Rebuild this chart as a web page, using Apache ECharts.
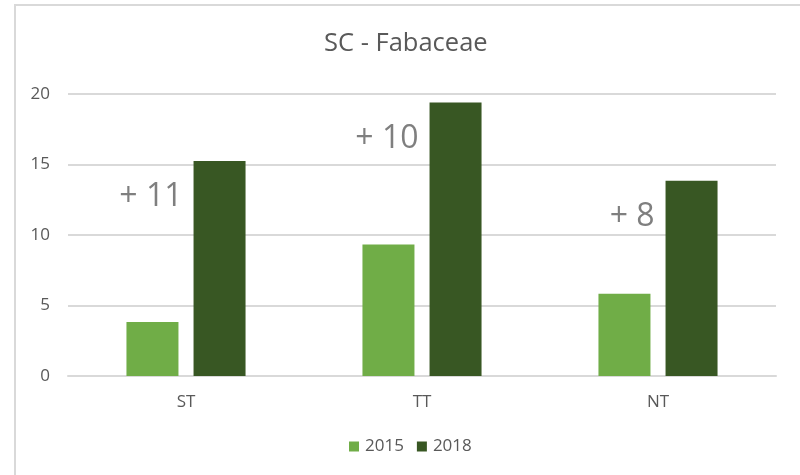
<!DOCTYPE html>
<html>
<head>
<meta charset="utf-8">
<script src="https://cdn.jsdelivr.net/npm/echarts@6/dist/echarts.min.js"></script>
<style>
  html, body { margin: 0; padding: 0; background: #fff; }
  #chart { width: 800px; height: 475px; }
</style>
</head>
<body>
<div id="chart"></div>
<script>
var categories = ["ST", "TT", "NT"];
var values2015 = [3.83, 9.33, 5.83];
var values2018 = [15.24, 19.4, 13.84];
var diffLabels = ["+ 11", "+ 10", "+ 8"];
var yTicks = [0, 5, 10, 15, 20];

var myChart = echarts.init(document.getElementById('chart'));
var font = "Open Sans";

var option = {
  backgroundColor: "#fff",
  animation: false,
  graphic: [{
    type: "rect",
    shape: { x: 15, y: 5, width: 790, height: 480 },
    style: { fill: "none", stroke: "#d9d9d9", lineWidth: 2 },
    silent: true
  }],
  title: {
    text: "SC - Fabaceae",
    left: 319,
    top: 26,
    textStyle: { color: "#595959", fontSize: 25.5, fontWeight: "normal", fontFamily: font }
  },
  legend: {
    bottom: 15,
    left: 344,
    itemWidth: 10,
    itemHeight: 10,
    itemGap: 13,
    icon: "rect",
    textStyle: { color: "#595959", fontSize: 17, fontFamily: font, padding: [0, 0, 0, 1] },
    data: ["2015", "2018"]
  },
  grid: { left: 68, right: 24, top: 94, bottom: 99 },
  xAxis: {
    type: "category",
    data: categories,
    axisLine: { lineStyle: { color: "#d9d9d9", width: 2 } },
    axisTick: { show: false },
    axisLabel: { color: "#595959", fontSize: 17, fontFamily: font, margin: 18 }
  },
  yAxis: {
    type: "value",
    min: yTicks[0],
    max: yTicks[yTicks.length - 1],
    interval: 5,
    axisLine: { show: false },
    axisTick: { show: false },
    splitLine: { lineStyle: { color: "#d9d9d9", width: 2 } },
    axisLabel: { color: "#595959", fontSize: 17, fontFamily: font, margin: 18 }
  },
  series: [{
    name: "2015",
    type: "bar",
    data: values2015,
    barWidth: 52,
    barGap: "29%",
    itemStyle: { color: "#70ad47" }
  }, {
    name: "2018",
    type: "bar",
    data: values2018,
    barWidth: 52,
    itemStyle: { color: "#385723" },
    label: {
      show: true,
      position: [-11, 36],
      align: "right",
      verticalAlign: "middle",
      color: "#7f7f7f",
      fontSize: 32,
      fontFamily: font,
      formatter: function (p) { return diffLabels[p.dataIndex]; }
    }
  }]
};
myChart.setOption(option);
</script>
</body>
</html>
